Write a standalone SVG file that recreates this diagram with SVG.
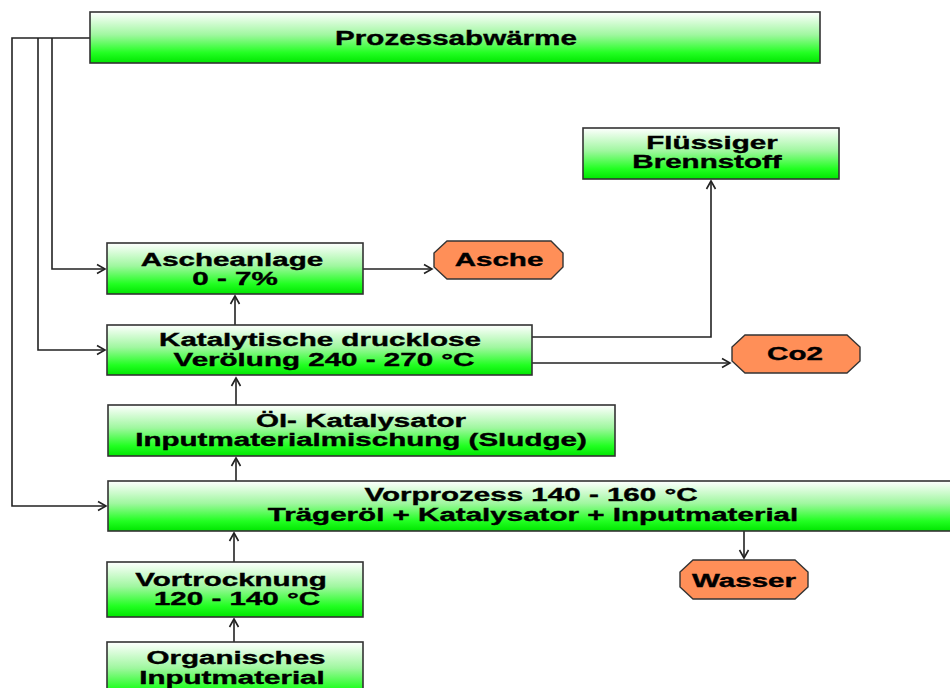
<svg xmlns="http://www.w3.org/2000/svg" width="950" height="688" viewBox="0 0 950 688">
<defs>
<linearGradient id="gr" x1="0" y1="0" x2="0" y2="1">
<stop offset="0" stop-color="#ffffff"/>
<stop offset="0.45" stop-color="#9ff79f"/>
<stop offset="0.8" stop-color="#22ff22"/>
<stop offset="1" stop-color="#00e600"/>
</linearGradient>
<marker id="ar" markerWidth="12" markerHeight="12" refX="9" refY="6" orient="auto" markerUnits="userSpaceOnUse">
<path d="M1,1.5 L9,6 L1,10.5" fill="none" stroke="#222" stroke-width="1.6"/>
</marker>
<style>
.box{fill:url(#gr);stroke:#333;stroke-width:1.6}
.oct{fill:#ff8f58;stroke:#333;stroke-width:1.4}
.t{font-family:"Liberation Sans",Arial,sans-serif;font-weight:bold;font-size:17.5px;fill:#000;stroke:#000;stroke-width:0.35;text-anchor:middle}
.tb{font-size:20px}
.c{fill:none;stroke:#222;stroke-width:1.6}
</style>
</defs>
<rect width="950" height="688" fill="#fff"/>
<g id="connectors">
<path class="c" d="M90,38 H12 V506 H106" marker-end="url(#ar)"/>
<path class="c" d="M38,38 V350 H105" marker-end="url(#ar)"/>
<path class="c" d="M52,38 V269 H105" marker-end="url(#ar)"/>
<path class="c" d="M363,269 H432" marker-end="url(#ar)"/>
<path class="c" d="M532,337 H711 V181" marker-end="url(#ar)"/>
<path class="c" d="M532,363 H730" marker-end="url(#ar)"/>
<path class="c" d="M235,325 V296" marker-end="url(#ar)"/>
<path class="c" d="M236,405 V378" marker-end="url(#ar)"/>
<path class="c" d="M236,481 V458" marker-end="url(#ar)"/>
<path class="c" d="M234,562 V533" marker-end="url(#ar)"/>
<path class="c" d="M234,642 V619" marker-end="url(#ar)"/>
<path class="c" d="M744,531 V558" marker-end="url(#ar)"/>
</g>
<g id="prozessabwaerme">
<rect class="box" x="90" y="12" width="730" height="51"/>
<g transform="translate(456,0) scale(1.48,1)"><text class="t tb" x="0" y="45">Prozessabwärme</text></g>
</g>
<g id="brennstoff">
<rect class="box" x="583" y="128" width="256" height="51"/>
<g transform="translate(712,0) scale(1.69,1)"><text class="t" x="0" y="149">Flüssiger</text></g>
<g transform="translate(707,0) scale(1.69,1)"><text class="t" x="0" y="168">Brennstoff</text></g>
</g>
<g id="ascheanlage">
<rect class="box" x="107" y="243" width="256" height="51"/>
<g transform="translate(232,0) scale(1.69,1)"><text class="t" x="0" y="266">Ascheanlage</text></g>
<g transform="translate(235,0) scale(1.69,1)"><text class="t" x="0" y="285">0 - 7%</text></g>
</g>
<g id="asche">
<polygon class="oct" points="447,241 551,241 563,253 563,267 551,279 447,279 434,267 434,253"/>
<g transform="translate(499,0) scale(1.69,1)"><text class="t" x="0" y="266">Asche</text></g>
</g>
<g id="katalytische">
<rect class="box" x="107" y="325" width="425" height="50"/>
<g transform="translate(320,0) scale(1.69,1)"><text class="t" x="0" y="346">Katalytische drucklose</text></g>
<g transform="translate(324,0) scale(1.69,1)"><text class="t" x="0" y="366">Verölung 240 - 270 °C</text></g>
</g>
<g id="co2">
<polygon class="oct" points="745,335 847,335 860,347 860,361 847,373 745,373 732,361 732,347"/>
<g transform="translate(795,0) scale(1.69,1)"><text class="t" x="0" y="360">Co2</text></g>
</g>
<g id="oel">
<rect class="box" x="108" y="405" width="507" height="51"/>
<g transform="translate(361,0) scale(1.69,1)"><text class="t" x="0" y="427">Öl- Katalysator</text></g>
<g transform="translate(361,0) scale(1.69,1)"><text class="t" x="0" y="446">Inputmaterialmischung (Sludge)</text></g>
</g>
<g id="vorprozess">
<rect class="box" x="108" y="481" width="848" height="50"/>
<g transform="translate(531,0) scale(1.69,1)"><text class="t" x="0" y="501">Vorprozess 140 - 160 °C</text></g>
<g transform="translate(533,0) scale(1.69,1)"><text class="t" x="0" y="521">Trägeröl + Katalysator + Inputmaterial</text></g>
</g>
<g id="wasser">
<polygon class="oct" points="693,560 795,560 808,572 808,587 795,599 693,599 680,587 680,572"/>
<g transform="translate(744,0) scale(1.69,1)"><text class="t" x="0" y="587">Wasser</text></g>
</g>
<g id="vortrocknung">
<rect class="box" x="107" y="562" width="256" height="55"/>
<g transform="translate(231,0) scale(1.69,1)"><text class="t" x="0" y="586">Vortrocknung</text></g>
<g transform="translate(237,0) scale(1.69,1)"><text class="t" x="0" y="605">120 - 140 °C</text></g>
</g>
<g id="organisches">
<rect class="box" x="107" y="642" width="256" height="58"/>
<g transform="translate(236,0) scale(1.69,1)"><text class="t" x="0" y="664">Organisches</text></g>
<g transform="translate(232,0) scale(1.69,1)"><text class="t" x="0" y="684">Inputmaterial</text></g>
</g>
</svg>
